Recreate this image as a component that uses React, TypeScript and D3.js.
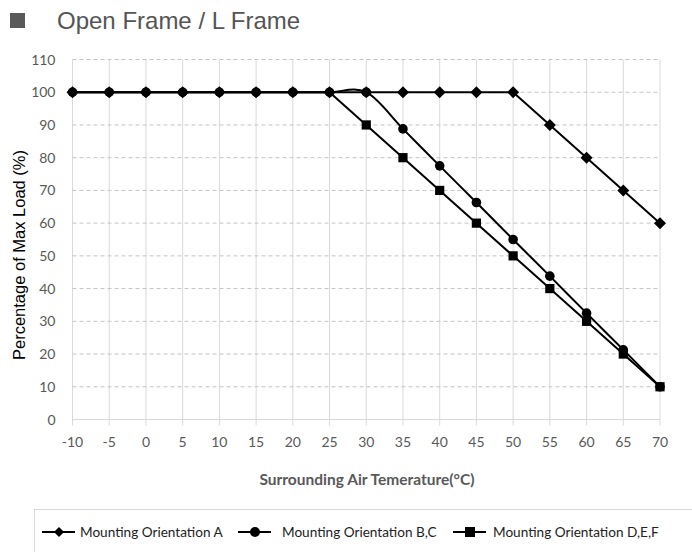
import React from "react";
import * as d3 from "d3";

const temps = [-10, -5, 0, 5, 10, 15, 20, 25, 30, 35, 40, 45, 50, 55, 60, 65, 70];
const seriesA = [100, 100, 100, 100, 100, 100, 100, 100, 100, 100, 100, 100, 100, 90, 80, 70, 60];
const seriesBC = [100, 100, 100, 100, 100, 100, 100, 100, 100, 88.8, 77.5, 66.3, 55, 43.8, 32.5, 21.3, 10];
const seriesDEF = [100, 100, 100, 100, 100, 100, 100, 100, 90, 80, 70, 60, 50, 40, 30, 20, 10];
const yTicks = [0, 10, 20, 30, 40, 50, 60, 70, 80, 90, 100, 110];
const legendLabels = ["Mounting Orientation A", "Mounting Orientation B,C", "Mounting Orientation D,E,F"];

const W = 692, H = 552;
const x = d3.scaleLinear().domain([-10, 70]).range([72.5, 660]);
const y = d3.scaleLinear().domain([0, 110]).range([419.5, 59.5]);

const tickFont = "Lato, 'Open Sans', sans-serif";

function Marker({ kind, cx, cy, small }: { kind: string; cx: number; cy: number; small?: boolean }) {
  if (kind === "diamond") {
    const s = small ? 5 : 6;
    return <path d={`M${cx},${cy - s}L${cx + s},${cy}L${cx},${cy + s}L${cx - s},${cy}Z`} fill="#000" />;
  }
  if (kind === "circle") return <circle cx={cx} cy={cy} r={small ? 5 : 4.8} fill="#000" />;
  const h = small ? 5 : 4.6;
  return <rect x={cx - h} y={cy - h} width={2 * h} height={2 * h} fill="#000" />;
}

export default function App() {
  const series = [
    { values: seriesA, kind: "diamond", curve: d3.curveLinear, markAll: true },
    { values: seriesBC, kind: "circle", curve: d3.curveCardinal.tension(0), markAll: true },
    { values: seriesDEF, kind: "square", curve: d3.curveLinear, markAll: false },
  ];
  const lineGen = (vals: number[], curve: any) =>
    d3.line<number>().x((_, i) => x(temps[i])).y((v) => y(v)).curve(curve)(vals) || "";

  const legendKinds = ["diamond", "circle", "square"];
  const legendSample = [42, 238, 453];
  const legendText = [80, 282, 493];

  return (
    <svg width={W} height={H} style={{ position: "absolute", left: 0, top: 0, background: "#fff" }}>
      <rect x={0} y={0} width={W} height={H} fill="#fff" />
      {/* title */}
      <rect x={10} y={13} width={15} height={15} fill="#595959" />
      <text x={57} y={28.5} fontFamily="'Liberation Sans', Arial, sans-serif" fontSize={24} fill="#555">
        Open Frame / L Frame
      </text>
      {/* vertical grid */}
      {temps.map((t) => (
        <line key={"v" + t} x1={x(t)} x2={x(t)} y1={y(110)} y2={y(0) + 6} stroke="#d9d9d9" strokeWidth={1} />
      ))}
      {/* horizontal grid */}
      {yTicks.filter((v) => v > 0).map((v) => (
        <line key={"h" + v} x1={x(-10)} x2={x(70)} y1={y(v)} y2={y(v)} stroke="#c4c4c4" strokeWidth={1} strokeDasharray="4,3" />
      ))}
      <line x1={x(-10)} x2={x(70)} y1={y(0)} y2={y(0)} stroke="#d9d9d9" strokeWidth={1} />
      {/* y tick labels */}
      {yTicks.map((v) => (
        <text key={"yt" + v} x={55.5} y={y(v) + 5} textAnchor="end" fontFamily={tickFont} fontSize={14} fill="#595959">
          {v}
        </text>
      ))}
      {/* x tick labels */}
      {temps.map((t) => (
        <text key={"xt" + t} x={x(t)} y={447} textAnchor="middle" fontFamily={tickFont} fontSize={14} fill="#595959">
          {t}
        </text>
      ))}
      <text x={367} y={485} textAnchor="middle" fontFamily={tickFont} fontSize={15.5} fontWeight="bold" fill="#595959">
        Surrounding Air Temerature(°C)
      </text>
      <text
        transform="translate(25,255) rotate(-90)"
        textAnchor="middle"
        fontFamily="'Liberation Sans', Arial, sans-serif"
        fontSize={16.5}
        fill="#000"
      >
        Percentage of Max Load (%)
      </text>
      {/* series */}
      {series.map((s, si) => (
        <g key={"s" + si}>
          <path d={lineGen(s.values, s.curve)} fill="none" stroke="#000" strokeWidth={2} />
          {s.values.map((v, i) =>
            s.markAll || v < 100 ? <Marker key={i} kind={s.kind} cx={x(temps[i])} cy={y(v)} /> : null
          )}
        </g>
      ))}
      {/* legend */}
      <rect x={34.5} y={509.5} width={700} height={60} fill="none" stroke="#d9d9d9" strokeWidth={1} />
      {legendLabels.map((lab, i) => (
        <g key={"lg" + i}>
          <line x1={legendSample[i]} x2={legendSample[i] + 33} y1={532} y2={532} stroke="#000" strokeWidth={2} />
          <Marker kind={legendKinds[i]} cx={legendSample[i] + 17} cy={532} small />
          <text x={legendText[i]} y={537} fontFamily={tickFont} fontSize={13.6} fill="#222">
            {lab}
          </text>
        </g>
      ))}
    </svg>
  );
}
